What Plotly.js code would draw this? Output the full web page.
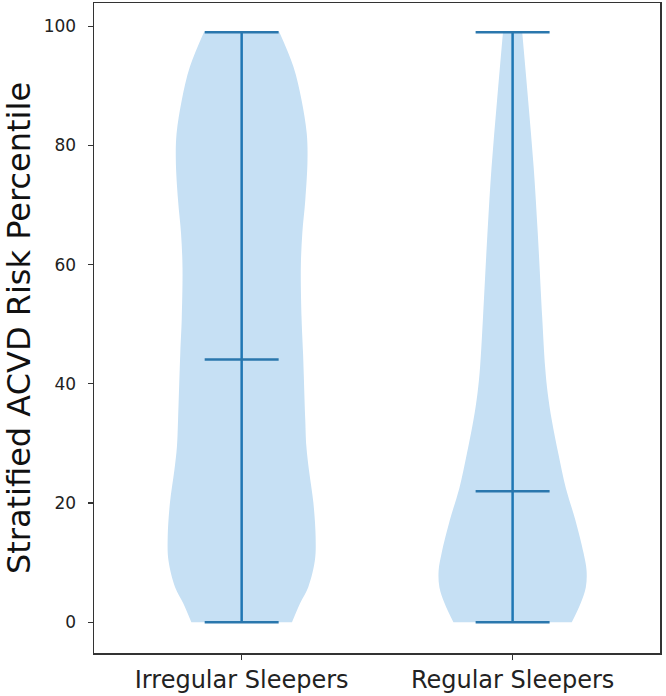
<!DOCTYPE html>
<html>
<head>
<meta charset="utf-8">
<script src="https://cdn.plot.ly/plotly-3.0.1.min.js"></script>
<style>html,body{margin:0;padding:0;background:#fff;}#chart{width:666px;height:696px;}</style>
</head>
<body>
<div id="chart"></div>
<script>
// ---- data ----
var categories = ['Irregular Sleepers', 'Regular Sleepers'];
var positions = [1, 2];
var mins = [0, 0];
var maxes = [99, 99];
var medians = [44.1, 22.0];

// relative density (max = 1) along the percentile axis
var irregularY = [0, 3.2, 5.9, 10.4, 14.3, 20, 25.5, 29.5, 33.9, 45.1, 51, 59.6, 65.3, 70.8, 77.5, 82, 87.6, 93.2, 99];
var irregularDensity = [0.68, 0.79, 0.90, 0.99, 1.00, 0.97, 0.91, 0.875, 0.86, 0.83, 0.81, 0.80, 0.82, 0.86, 0.89, 0.88, 0.81, 0.70, 0.51];
var regularY = [0, 3.2, 5.9, 8.7, 11.6, 17.1, 22.5, 28.2, 33.9, 38.4, 42.8, 51.2, 65.3, 76.3, 87.6, 99];
var regularDensity = [0.80, 0.92, 0.99, 1.00, 0.96, 0.85, 0.72, 0.62, 0.53, 0.475, 0.44, 0.40, 0.34, 0.285, 0.21, 0.13];

var yTicks = [0, 20, 40, 60, 80, 100];

// ---- styling ----
var halfWidth = 0.273;   // max half width of violin body (x units)
var capHalf = 0.1365;    // half length of min/max/median bars
var fillColor = 'rgb(198,224,244)';
var lineColor = '#1f77b4';

var profiles = [[irregularY, irregularDensity], [regularY, regularDensity]];
var traces = [];

profiles.forEach(function (p, i) {
  var ys = p[0], ds = p[1], pos = positions[i];
  var xl = ds.map(function (d) { return pos - d * halfWidth; });
  var xr = ds.map(function (d) { return pos + d * halfWidth; });
  traces.push({
    type: 'scatter', mode: 'lines', x: xl, y: ys,
    line: {width: 0, shape: 'spline', smoothing: 1, color: 'rgba(0,0,0,0)'},
    hoverinfo: 'skip', showlegend: false
  });
  traces.push({
    type: 'scatter', mode: 'lines', x: xr, y: ys, fill: 'tonextx',
    fillcolor: fillColor,
    line: {width: 0, shape: 'spline', smoothing: 1, color: 'rgba(0,0,0,0)'},
    hoverinfo: 'skip', showlegend: false
  });
});

positions.forEach(function (pos, i) {
  traces.push({type: 'scatter', mode: 'lines', x: [pos, pos], y: [mins[i], maxes[i]],
    line: {color: lineColor, width: 2.5}, showlegend: false, hoverinfo: 'skip'});
  [mins[i], maxes[i], medians[i]].forEach(function (v) {
    traces.push({type: 'scatter', mode: 'lines', x: [pos - capHalf, pos + capHalf], y: [v, v],
      line: {color: '#2a77ad', width: 2.5}, showlegend: false, hoverinfo: 'skip'});
  });
});

var layout = {
  width: 666, height: 696,
  margin: {l: 94, r: 6, t: 3, b: 43},
  paper_bgcolor: '#fff', plot_bgcolor: '#fff',
  font: {family: 'DejaVu Sans', color: '#222'},
  showlegend: false,
  xaxis: {
    range: [0.455, 2.544], tickvals: positions, ticktext: categories,
    showgrid: false, zeroline: false, showline: true, mirror: true,
    linecolor: '#333', linewidth: 1.5, ticks: 'outside', ticklen: 5, tickwidth: 1.2, tickcolor: '#333',
    tickfont: {size: 24, color: '#222'}, ticklabelstandoff: 0
  },
  yaxis: {
    range: [-5.15, 103.9], tickvals: yTicks,
    showgrid: false, zeroline: false, showline: true, mirror: true,
    linecolor: '#333', linewidth: 1.5, ticks: 'outside', ticklen: 5, tickwidth: 1.2, tickcolor: '#333',
    tickfont: {size: 17, color: '#222'}, ticklabelstandoff: 8,
    title: {text: 'Stratified ACVD Risk Percentile', font: {size: 32, color: '#111'}, standoff: 12}
  }
};

Plotly.newPlot('chart', traces, layout, {displayModeBar: false, staticPlot: true});
</script>
</body>
</html>
